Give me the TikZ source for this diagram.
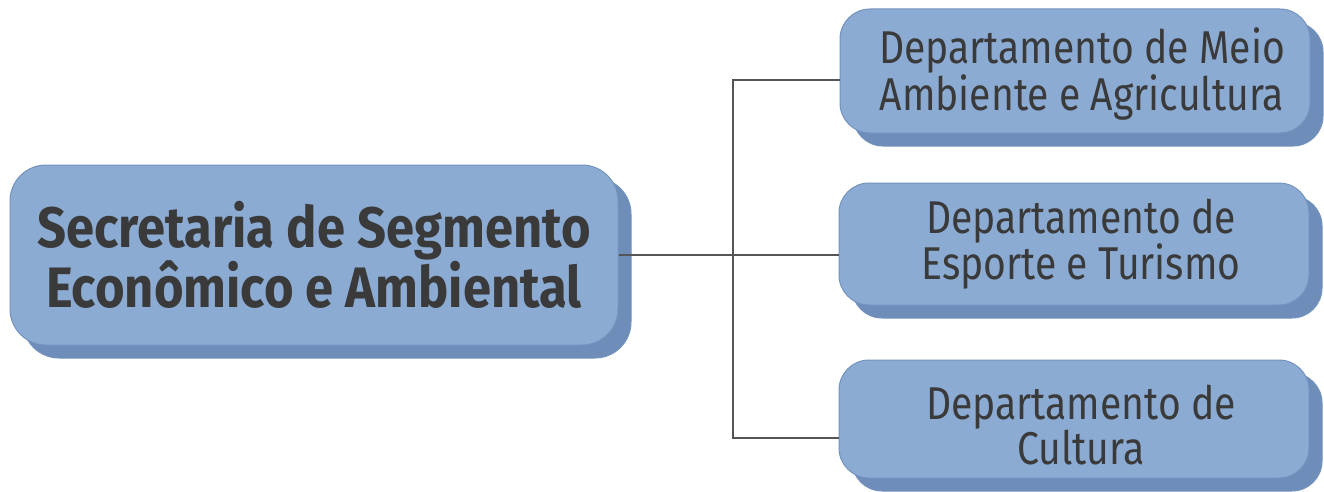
\documentclass[tikz,border=0pt]{standalone}
\usepackage{fontspec}
\setmainfont{Fira Sans}
\newfontfamily\deptfont{Fira Sans}[FakeStretch=0.85]
\newfontfamily\headfont{Fira Sans}[FakeStretch=0.89]
\usetikzlibrary{shadows,calc}
\definecolor{boxfill}{HTML}{8BABD3}
\definecolor{boxshadow}{HTML}{6E8EB9}
\definecolor{boxline}{HTML}{7393BE}
\definecolor{txt}{HTML}{3A3A3A}
\definecolor{conn}{HTML}{555555}
\newcommand{\lift}[1]{\rule{0pt}{#1}}
\newcommand{\nudge}{\hspace*{14pt}}
\begin{document}
\begin{tikzpicture}[x=1pt,y=-1pt,
  box/.style={draw=boxline, line width=1pt, fill=boxfill, rounded corners=30pt,
    text=txt, align=center, inner sep=0pt,
    drop shadow={shadow xshift=13pt, shadow yshift=-13pt, opacity=1, fill=boxshadow, draw=boxline}},
  mainbox/.style={box, minimum width=608pt, minimum height=180pt, rounded corners=36pt,
    font=\headfont\bfseries\fontsize{57}{58}\selectfont},
  deptbox/.style={box, minimum width=470pt, font=\deptfont\fontsize{46}{45}\selectfont},
  conn/.style={draw=conn, line width=1.4pt}]
\useasboundingbox (0,0) rectangle (1324,492);
\node[mainbox] (main) at (314,255) {Secretaria de Segmento\\Econômico e Ambiental};
\node[deptbox, minimum height=124pt] (d1) at (1075,71) {\nudge\lift{42pt}Departamento de Meio\\\nudge Ambiente e Agricultura};
\node[deptbox, minimum height=122pt] (d2) at (1074,244) {\nudge Departamento de\\\nudge Esporte e Turismo};
\node[deptbox, minimum height=118pt] (d3) at (1074,419) {\nudge\lift{46pt}Departamento de\\\nudge Cultura};
\coordinate (j) at (733,255);
\draw[conn] (main.east) -- (main.east -| d2.west);
\draw[conn] (j) |- ($(d1.west)+(0,9)$);
\draw[conn] (j) |- ($(d3.west)+(0,19)$);
\end{tikzpicture}
\end{document}
